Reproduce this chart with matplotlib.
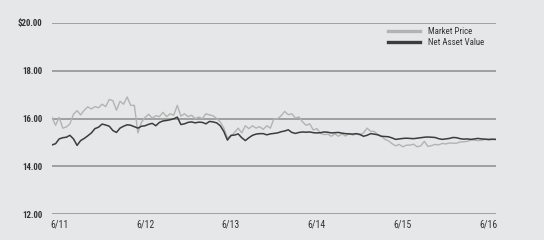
import numpy as np
import matplotlib
matplotlib.use("Agg")
import matplotlib.pyplot as plt

# months since June 2011, half-month steps
months = np.arange(-1.0, 61.01, 0.5)

market_price = [
    16.05, 15.72, 16.05, 15.60, 15.65, 15.78, 16.18, 16.33, 16.15, 16.35,
    16.49, 16.40, 16.50, 16.45, 16.60, 16.50, 16.80, 16.75, 16.35, 16.72,
    16.60, 16.90, 16.55, 16.55, 15.40, 15.85, 16.05, 16.18, 16.02, 16.12,
    16.08, 16.26, 16.08, 16.20, 16.14, 16.55, 16.10, 16.20, 16.08, 16.14,
    16.00, 16.06, 16.00, 16.20, 16.15, 16.12, 16.00, 15.86, 15.60, 15.20,
    15.25, 15.42, 15.60, 15.40, 15.70, 15.58, 15.70, 15.60, 15.66, 15.55,
    15.70, 15.60, 16.00, 15.98, 16.12, 16.30, 16.16, 16.20, 16.02, 16.07,
    15.86, 15.72, 15.78, 15.52, 15.58, 15.38, 15.33, 15.35, 15.26, 15.36,
    15.26, 15.36, 15.27, 15.38, 15.31, 15.36, 15.31, 15.40, 15.60, 15.47,
    15.46, 15.34, 15.27, 15.13, 15.07, 14.95, 14.86, 14.92, 14.82, 14.89,
    14.89, 14.93, 14.82, 14.86, 15.05, 14.84, 14.87, 14.92, 14.90, 14.96,
    14.94, 14.98, 14.97, 14.97, 15.02, 15.03, 15.05, 15.10, 15.10, 15.08,
    15.09, 15.13, 15.10, 15.12, 15.13,
]

nav = [
    14.90, 14.95, 15.15, 15.20, 15.22, 15.30, 15.15, 14.88, 15.08, 15.17,
    15.28, 15.40, 15.58, 15.64, 15.77, 15.73, 15.68, 15.50, 15.42, 15.60,
    15.68, 15.74, 15.72, 15.66, 15.60, 15.68, 15.70, 15.76, 15.80, 15.70,
    15.84, 15.90, 15.92, 15.95, 15.99, 16.06, 15.75, 15.78, 15.84, 15.86,
    15.82, 15.85, 15.84, 15.78, 15.88, 15.86, 15.82, 15.70, 15.46, 15.10,
    15.30, 15.31, 15.36, 15.20, 15.08, 15.20, 15.30, 15.35, 15.37, 15.37,
    15.32, 15.36, 15.38, 15.40, 15.45, 15.48, 15.53, 15.42, 15.38, 15.42,
    15.44, 15.43, 15.44, 15.41, 15.40, 15.41, 15.44, 15.43, 15.40, 15.41,
    15.42, 15.39, 15.37, 15.36, 15.35, 15.37, 15.34, 15.26, 15.30, 15.37,
    15.35, 15.32, 15.26, 15.25, 15.24, 15.19, 15.13, 15.15, 15.17, 15.18,
    15.17, 15.16, 15.18, 15.20, 15.22, 15.23, 15.22, 15.21, 15.16, 15.13,
    15.15, 15.17, 15.21, 15.20, 15.16, 15.14, 15.15, 15.13, 15.15, 15.17,
    15.15, 15.14, 15.13, 15.14, 15.13,
]

tick_months = [0, 12, 24, 36, 48, 60]
tick_labels = ["6/11", "6/12", "6/13", "6/14", "6/15", "6/16"]
y_ticks = [12, 14, 16, 18, 20]
y_labels = ["12.00", "14.00", "16.00", "18.00", "$20.00"]

bg = "#e6e7e8"
plt.rcParams["font.family"] = ["Roboto Condensed", "DejaVu Sans"]

fig = plt.figure(figsize=(5.44, 2.40), dpi=100, facecolor=bg)
ax = fig.add_axes([0.0956, 0.107, 0.816, 0.798], facecolor=bg)

for y in y_ticks:
    ax.axhline(y, color="#8c8c8c", lw=1.1, zorder=1)

ax.plot(months, market_price, color="#b3b3b3", lw=1.0, zorder=2,
        label="Market Price")
ax.plot(months, nav, color="#3c3c3c", lw=1.1, zorder=3,
        label="Net Asset Value")

ax.set_xlim(-1.0, 61.0)
ax.set_ylim(12, 20)
ax.set_xticks(tick_months)
ax.set_xticklabels(tick_labels, fontsize=7, color="#333333")
ax.set_yticks(y_ticks)
ax.set_yticklabels(y_labels, fontsize=6.4, fontweight="bold", color="#333333")
ax.tick_params(axis="both", length=0)
ax.tick_params(axis="y", pad=7)
ax.tick_params(axis="x", pad=4)
for s in ax.spines.values():
    s.set_visible(False)

leg = ax.legend(loc="upper left", bbox_to_anchor=(0.758, 0.978), frameon=False,
                fontsize=6.4, handlelength=3.6, handletextpad=0.8,
                labelspacing=0.25, borderaxespad=0, borderpad=0)
for line in leg.get_lines():
    line.set_linewidth(2.4)
for t in leg.get_texts():
    t.set_color("#333333")

fig.savefig("out.png", dpi=100, facecolor=bg)
